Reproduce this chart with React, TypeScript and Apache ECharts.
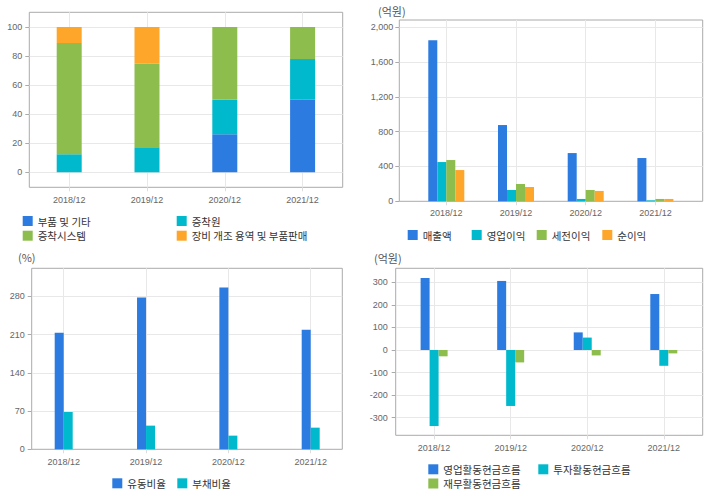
import React, { useEffect, useRef } from 'react';
import * as echarts from 'echarts';

// ---------- data ----------
const categories = ['2018/12', '2019/12', '2020/12', '2021/12'];

// chart 1: 매출 구성 (%)
const mixNames = ['부품 및 기타', '증착원', '증착시스템', '장비 개조 용역 및 부품판매'];
const partsEtc = [0, 0, 26.2, 49.9];
const depositionSource = [12.4, 16.8, 23.7, 28.0];
const depositionSystem = [76.6, 57.9, 50.1, 22.1];
const equipmentService = [11.0, 25.3, 0, 0];
const mixTicks = [0, 20, 40, 60, 80, 100];

// chart 2: 손익 (억원)
const plNames = ['매출액', '영업이익', '세전이익', '순이익'];
const revenue = [1851, 876, 554, 497];
const operatingProfit = [451, 130, 27, 11];
const preTaxProfit = [474, 199, 130, 27];
const netProfit = [359, 164, 119, 27];
const plTicks = [0, 400, 800, 1200, 1600, 2000];

// chart 3: 비율 (%)
const ratioNames = ['유동비율', '부채비율'];
const currentRatio = [213.5, 277.6, 295.9, 219.0];
const debtRatio = [68.3, 43.3, 25.0, 39.6];
const ratioTicks = [0, 70, 140, 210, 280];

// chart 4: 현금흐름 (억원)
const cfNames = ['영업활동현금흐름', '투자활동현금흐름', '재무활동현금흐름'];
const operatingCF = [319, 306, 78, 248];
const investingCF = [-337, -248, 55, -70];
const financingCF = [-28, -55, -24, -15];
const cfTicks = [-300, -200, -100, 0, 100, 200, 300];

// ---------- styles ----------
const BLUE = '#2c7be0';
const CYAN = '#00b9cc';
const GREEN = '#8dbd4c';
const ORANGE = '#fea62a';
const BORDER = '#aaaaaa';
const GRIDLINE = '#e8e8e8';
const LABEL = '#666666';
const KFONT = '"Noto Sans CJK KR", "Noto Sans", sans-serif';
const NFONT = '"Liberation Sans", Arial, sans-serif';

type Layout = {
  box: [number, number, number, number];
  yTop: number;
  yBottom: number;
  xFirst: number;
  xLast: number;
  yMargin: number;
  xMargin: number;
  showMinLine: boolean;
};

const layouts: Layout[] = [
  { box: [29.3, 12.3, 313.4, 175], yTop: 27, yBottom: 172.3, xFirst: 69.2, xLast: 302.6, yMargin: 7, xMargin: 8, showMinLine: true },
  { box: [399.3, 20, 303.4, 181.3], yTop: 27.2, yBottom: 201.3, xFirst: 446.3, xLast: 655.4, yMargin: 6, xMargin: 7, showMinLine: false },
  { box: [31.7, 268.3, 310.6, 181], yTop: 296.3, yBottom: 449.3, xFirst: 63.7, xLast: 310.7, yMargin: 7, xMargin: 8, showMinLine: false },
  { box: [395.7, 268.3, 307, 167], yTop: 282.3, yBottom: 417.7, xFirst: 434.1, xLast: 663.8, yMargin: 8, xMargin: 8, showMinLine: true },
];

type SeriesSpec = { name: string; data: number[]; color: string };

const chartSeries: { specs: SeriesSpec[]; ticks: number[]; barWidth: number; stack?: string; fmt?: (v: number) => string }[] = [
  {
    specs: [
      { name: mixNames[0], data: partsEtc, color: BLUE },
      { name: mixNames[1], data: depositionSource, color: CYAN },
      { name: mixNames[2], data: depositionSystem, color: GREEN },
      { name: mixNames[3], data: equipmentService, color: ORANGE },
    ],
    ticks: mixTicks,
    barWidth: 25,
    stack: 'mix',
  },
  {
    specs: [
      { name: plNames[0], data: revenue, color: BLUE },
      { name: plNames[1], data: operatingProfit, color: CYAN },
      { name: plNames[2], data: preTaxProfit, color: GREEN },
      { name: plNames[3], data: netProfit, color: ORANGE },
    ],
    ticks: plTicks,
    barWidth: 9,
    fmt: (v: number) => v.toLocaleString('en-US'),
  },
  {
    specs: [
      { name: ratioNames[0], data: currentRatio, color: BLUE },
      { name: ratioNames[1], data: debtRatio, color: CYAN },
    ],
    ticks: ratioTicks,
    barWidth: 9,
  },
  {
    specs: [
      { name: cfNames[0], data: operatingCF, color: BLUE },
      { name: cfNames[1], data: investingCF, color: CYAN },
      { name: cfNames[2], data: financingCF, color: GREEN },
    ],
    ticks: cfTicks,
    barWidth: 9,
  },
];

function legendItem(name: string, left: number, cy: number) {
  return {
    data: [name],
    left,
    top: cy - 6,
    orient: 'horizontal',
    padding: 0,
    itemWidth: 10,
    itemHeight: 10,
    itemGap: 0,
    icon: 'rect',
    selectedMode: false,
    textStyle: { fontSize: 10.5, lineHeight: 12, color: '#333', fontFamily: KFONT },
  };
}

function buildOption() {
  const grid: any[] = [];
  const xAxis: any[] = [];
  const yAxis: any[] = [];
  const series: any[] = [];

  layouts.forEach((L, k) => {
    const cs = chartSeries[k];
    const [l, t, w, h] = L.box;
    const min = cs.ticks[0];
    const max = cs.ticks[cs.ticks.length - 1];
    const interval = cs.ticks[1] - cs.ticks[0];
    const base = grid.length;

    // frame grid
    grid.push({ left: l, top: t, width: w, height: h, show: true, borderColor: BORDER, borderWidth: 1, backgroundColor: 'transparent' });
    xAxis.push({ gridIndex: base, type: 'category', data: categories, show: false });
    yAxis.push({ gridIndex: base, type: 'value', min: 0, max: 1, show: false });

    // value-axis grid
    grid.push({ left: l, top: L.yTop, width: w, height: L.yBottom - L.yTop });
    xAxis.push({ gridIndex: base + 1, type: 'category', data: categories, show: false });
    yAxis.push({
      gridIndex: base + 1,
      type: 'value',
      min,
      max,
      interval,
      axisLine: { show: false },
      axisTick: { show: true, length: 4, lineStyle: { color: BORDER } },
      axisLabel: {
        margin: L.yMargin,
        fontSize: 9,
        fontFamily: NFONT,
        color: LABEL,
        formatter: cs.fmt ? (v: number) => cs.fmt!(v) : undefined,
      },
      splitLine: { show: true, showMinLine: L.showMinLine, lineStyle: { color: GRIDLINE, width: 1 } },
    });

    // category-axis grid
    grid.push({ left: L.xFirst, top: t, width: L.xLast - L.xFirst, height: h });
    xAxis.push({
      gridIndex: base + 2,
      type: 'category',
      data: categories,
      boundaryGap: false,
      axisLine: { show: false },
      axisTick: { show: true, length: 4, lineStyle: { color: '#dddddd' } },
      axisLabel: { margin: L.xMargin, fontSize: 9, fontFamily: NFONT, color: LABEL },
      splitLine: { show: true, lineStyle: { color: GRIDLINE, width: 1 } },
    });
    yAxis.push({ gridIndex: base + 2, type: 'value', min: 0, max: 1, show: false });

    // bars grid
    grid.push({ left: L.xFirst, top: L.yTop, width: L.xLast - L.xFirst, height: L.yBottom - L.yTop });
    xAxis.push({ gridIndex: base + 3, type: 'category', data: categories, boundaryGap: false, show: false });
    yAxis.push({ gridIndex: base + 3, type: 'value', min, max, show: false });

    cs.specs.forEach((s) => {
      series.push({
        type: 'bar',
        name: s.name,
        data: s.data,
        xAxisIndex: base + 3,
        yAxisIndex: base + 3,
        barWidth: cs.barWidth,
        barGap: '0%',
        stack: cs.stack,
        clip: false,
        itemStyle: { color: s.color },
        emphasis: { disabled: true },
      });
    });
  });

  const legend = [
    legendItem(mixNames[0], 22.7, 221),
    legendItem(mixNames[2], 22.7, 235.7),
    legendItem(mixNames[1], 176.7, 221),
    legendItem(mixNames[3], 176.7, 235.7),
    legendItem(plNames[0], 407.7, 235),
    legendItem(plNames[1], 471.7, 235),
    legendItem(plNames[2], 536.7, 235),
    legendItem(plNames[3], 602.3, 235),
    legendItem(ratioNames[0], 112.3, 483.3),
    legendItem(ratioNames[1], 177.3, 483.3),
    legendItem(cfNames[0], 428.3, 469.3),
    legendItem(cfNames[1], 538.3, 469.3),
    legendItem(cfNames[2], 428.3, 483.5),
  ];

  const unitText = (text: string, x: number, y: number) => ({
    type: 'text',
    x,
    y,
    silent: true,
    style: { text, fill: '#555', fontSize: 11, fontFamily: KFONT, verticalAlign: 'middle', align: 'left' },
  });

  return {
    animation: false,
    backgroundColor: '#ffffff',
    grid,
    xAxis,
    yAxis,
    series,
    legend,
    tooltip: { show: false },
    graphic: [
      unitText('(억원)', 378, 10.7),
      unitText('(%)', 18, 257.3),
      unitText('(억원)', 374, 258.3),
    ],
  };
}

export default function App() {
  const ref = useRef<HTMLDivElement>(null);
  useEffect(() => {
    document.body.style.margin = '0';
    if (!ref.current) return;
    const chart = echarts.init(ref.current, undefined, { renderer: 'svg' });
    chart.setOption(buildOption() as any);
    return () => chart.dispose();
  }, []);
  return <div ref={ref} style={{ width: 720, height: 496 }} />;
}
